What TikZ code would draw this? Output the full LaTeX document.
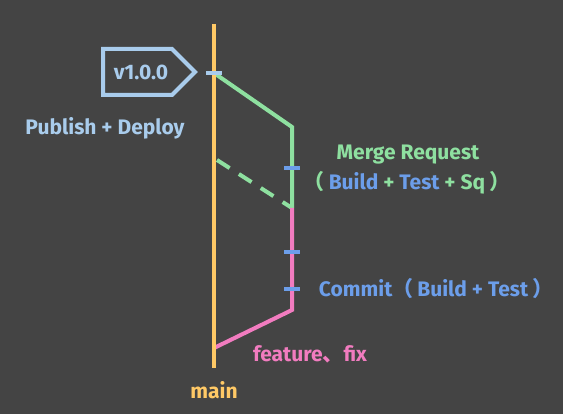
\documentclass[tikz,border=0pt]{standalone}
\usepackage{fontspec}
\setmainfont{Fira Sans}
\newfontfamily\cjk{Noto Sans CJK SC}
\definecolor{bgcol}{HTML}{444444}
\definecolor{maincol}{HTML}{FFC966}
\definecolor{mergecol}{HTML}{8EE0A0}
\definecolor{featcol}{HTML}{F27CC0}
\definecolor{buildcol}{HTML}{6C9EEA}
\definecolor{tagcol}{HTML}{A9CCEC}
\newcommand{\lp}{{\cjk （}\hspace{4pt}}
\newcommand{\rp}{\hspace{4pt}{\cjk ）}}
\begin{document}
\begin{tikzpicture}[
        x=1pt, y=-1pt,
        branch/.style={line width=4pt},
        tick/.style={line width=4pt, buildcol},
        label/.style={font=\fontsize{21}{24}\selectfont\bfseries, inner sep=0pt}
    ]
    \fill[bgcol] (0,0) rectangle (563,414);
    \useasboundingbox (0,0) rectangle (563,414);
    % points
    \coordinate (mtop) at (214,24);
    \coordinate (mend) at (214,368);
    \coordinate (mtag) at (214,73);
    \coordinate (mdash) at (217,160);
    \coordinate (fout) at (214,348);
    \coordinate (gtop) at (292,127);
    \coordinate (gbot) at (292,208);
    \coordinate (pbot) at (292,310);
    % branches
    \draw[branch, mergecol] (mtag) -- (gtop) -- (gbot);
    \draw[branch, mergecol, dash pattern=on 15pt off 11pt] (mdash) -- (gbot);
    \draw[branch, featcol] (gbot) -- (pbot) -- (fout);
    \draw[branch, maincol] (mtop) -- (mend);
    % commits
    \draw[tick, tagcol] ([xshift=-8pt]mtag) -- ([xshift=8pt]mtag);
    \draw[tick] (284,168) -- (300,168);
    \draw[tick] (284,252) -- (300,252);
    \draw[tick] (284,289) -- (300,289);
    % tag
    \draw[line width=4pt, tagcol, line join=miter] (103,49) -- (172,49) -- (195,72) -- (172,95) -- (103,95) -- cycle;
    \node[label, text=tagcol] (ver) at (141,72) {v1.0.0};
    % labels
    \node[label, text=tagcol] (pub) at (105,128) {Publish + Deploy};
    \node[label, text=mergecol] (mr) at (408,155) {Merge Request};
    \node[label, text=mergecol] (mrci) at (407,183) {\lp\textcolor{buildcol}{Build} + \textcolor{buildcol}{Test} + Sq\rp};
    \node[label, text=buildcol] (ci) at (436,289) {Commit\lp Build + Test\rp};
    \node[label, text=featcol] (feat) at (310,354) {feature{\cjk 、}fix};
    \node[label, text=maincol] (main) at (214,390) {main};
\end{tikzpicture}
\end{document}
